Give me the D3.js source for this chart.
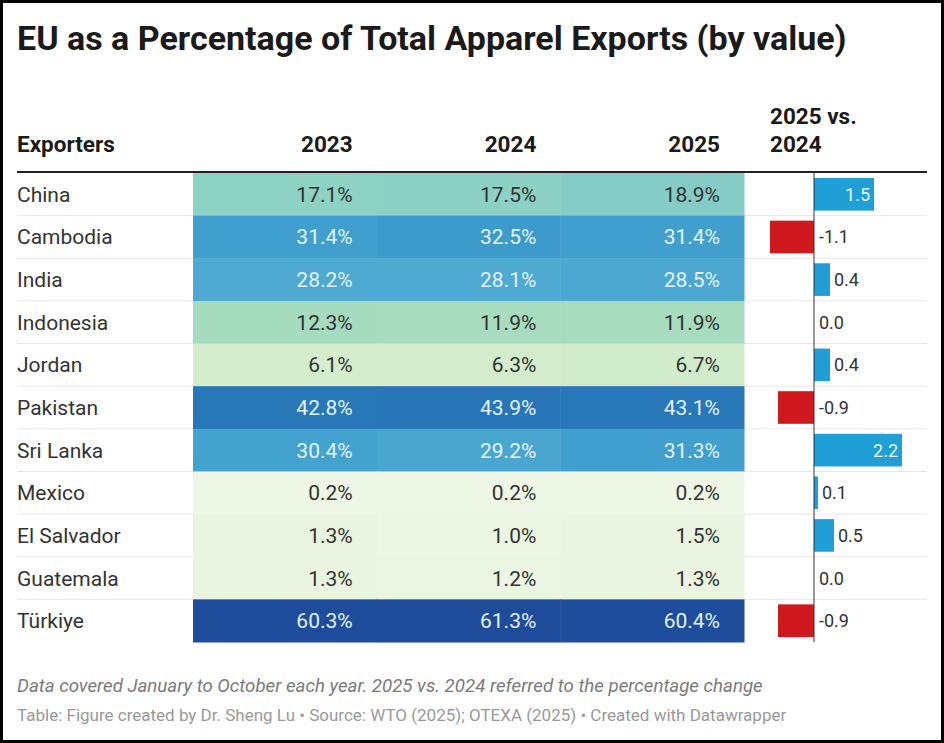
<!DOCTYPE html>
<html>
<head>
<meta charset="utf-8">
<script src="https://cdn.jsdelivr.net/npm/d3@7"></script>
<style>
  html, body { margin: 0; padding: 0; background: #fff; }
  svg { display: block; font-family: Roboto, "Noto Sans", sans-serif; }
</style>
</head>
<body>
<div id="chart"></div>
<script>
// table data
const exporters = ["China", "Cambodia", "India", "Indonesia", "Jordan", "Pakistan",
  "Sri Lanka", "Mexico", "El Salvador", "Guatemala", "Türkiye"];
const years = ["2023", "2024", "2025"];
const share2023 = [17.1, 31.4, 28.2, 12.3, 6.1, 42.8, 30.4, 0.2, 1.3, 1.3, 60.3];
const share2024 = [17.5, 32.5, 28.1, 11.9, 6.3, 43.9, 29.2, 0.2, 1.0, 1.2, 61.3];
const share2025 = [18.9, 31.4, 28.5, 11.9, 6.7, 43.1, 31.3, 0.2, 1.5, 1.3, 60.4];
const change = [1.5, -1.1, 0.4, 0.0, 0.4, -0.9, 2.2, 0.1, 0.5, 0.0, -0.9];

const title = "EU as a Percentage of Total Apparel Exports (by value)";
const note = "Data covered January to October each year. 2025 vs. 2024 referred to the percentage change";
const source = "Table: Figure created by Dr. Sheng Lu • Source: WTO (2025); OTEXA (2025) • Created with Datawrapper";

const W = 944, H = 743;
const shares = [share2023, share2024, share2025];

const svg = d3.select("#chart").append("svg")
  .attr("width", W)
  .attr("height", H);

// black frame around the picture
svg.append("rect")
  .attr("x", 1.5).attr("y", 1.5)
  .attr("width", W - 3).attr("height", H - 3)
  .attr("fill", "#fff")
  .attr("stroke", "#000")
  .attr("stroke-width", 3);

svg.append("text")
  .attr("x", 17).attr("y", 50)
  .attr("font-size", 34)
  .attr("font-weight", 700)
  .attr("fill", "#1a1a1a")
  .text(title);

// scales
const y = d3.scaleBand()
  .domain(exporters)
  .range([173, 642]);

const xCol = d3.scaleBand()
  .domain(years)
  .range([193, 744]);

const xBar = d3.scaleLinear()
  .domain([-1.1, 2.2])
  .range([770, 902]);

const color = d3.scaleLinear()
  .domain([0, 6, 12, 17.5, 28, 32, 43, 61])
  .range(["#eff7e7", "#d5eecd", "#a6dcbf", "#8cd1c3", "#4eaad0", "#3e9dcc", "#2877b8", "#1e4c9a"])
  .interpolate(d3.interpolateRgb);

// header
const head = svg.append("g")
  .attr("font-size", 22.5)
  .attr("font-weight", 700)
  .attr("fill", "#1a1a1a");

head.append("text").attr("x", 17).attr("y", 152).text("Exporters");
head.selectAll(".yr")
  .data(years)
  .enter().append("text")
  .attr("x", d => xCol(d) + xCol.bandwidth() - 24)
  .attr("y", 152)
  .attr("text-anchor", "end")
  .text(d => d);
head.append("text").attr("x", 770).attr("y", 124).text("2025 vs.");
head.append("text").attr("x", 770).attr("y", 152).text("2024");

// row separators
svg.append("g")
  .selectAll("line")
  .data(exporters.slice(1))
  .enter().append("line")
  .attr("x1", 17).attr("x2", 927)
  .attr("y1", d => y(d)).attr("y2", d => y(d))
  .attr("stroke", "#e6e6e6")
  .attr("stroke-width", 1);

// heatmap cells
const cells = [];
exporters.forEach((c, i) => {
  years.forEach((yr, j) => cells.push({ country: c, year: yr, value: shares[j][i] }));
});

svg.append("g")
  .selectAll("rect")
  .data(cells)
  .enter().append("rect")
  .attr("x", d => xCol(d.year))
  .attr("y", d => y(d.country))
  .attr("width", xCol.bandwidth() + 0.5)
  .attr("height", y.bandwidth() + 0.5)
  .attr("fill", d => color(d.value));

svg.append("g")
  .attr("font-size", 21)
  .selectAll("text")
  .data(cells)
  .enter().append("text")
  .attr("x", d => xCol(d.year) + xCol.bandwidth() - 24)
  .attr("y", d => y(d.country) + y.bandwidth() / 2 + 7.5)
  .attr("text-anchor", "end")
  .attr("fill", d => d.value > 25 ? "#e3f2fb" : "#333")
  .text(d => d.value.toFixed(1) + "%");

// country labels
svg.append("g")
  .attr("font-size", 21)
  .attr("fill", "#333")
  .selectAll("text")
  .data(exporters)
  .enter().append("text")
  .attr("x", 17)
  .attr("y", d => y(d) + y.bandwidth() / 2 + 7.5)
  .text(d => d);

// change bars
const barPad = 5;
const bars = svg.append("g");
bars.selectAll("rect")
  .data(change)
  .enter().append("rect")
  .attr("x", d => xBar(Math.min(0, d)))
  .attr("y", (d, i) => y(exporters[i]) + barPad)
  .attr("width", d => Math.abs(xBar(d) - xBar(0)))
  .attr("height", y.bandwidth() - barPad * 2)
  .attr("fill", d => d < 0 ? "#d0191f" : "#1f9fd6");

svg.append("line")
  .attr("x1", xBar(0)).attr("x2", xBar(0))
  .attr("y1", 173).attr("y2", 642)
  .attr("stroke", "#333")
  .attr("stroke-width", 1);

bars.selectAll("text")
  .data(change)
  .enter().append("text")
  .attr("x", d => d > 1 ? xBar(d) - 4 : (d > 0 ? xBar(d) + 4 : xBar(0) + 5))
  .attr("y", (d, i) => y(exporters[i]) + y.bandwidth() / 2 + 6.5)
  .attr("font-size", 18)
  .attr("text-anchor", d => d > 1 ? "end" : "start")
  .attr("fill", d => d > 1 ? "#e8f5fc" : "#333")
  .text(d => d.toFixed(1));

// header rule
svg.append("line")
  .attr("x1", 17).attr("x2", 927)
  .attr("y1", 172).attr("y2", 172)
  .attr("stroke", "#222")
  .attr("stroke-width", 2);

// notes
svg.append("text")
  .attr("x", 17).attr("y", 692)
  .attr("font-size", 18.7)
  .attr("font-style", "italic")
  .attr("fill", "#7a7a7a")
  .text(note);

svg.append("text")
  .attr("x", 17).attr("y", 721)
  .attr("font-size", 17)
  .attr("fill", "#999")
  .text(source);
</script>
</body>
</html>
